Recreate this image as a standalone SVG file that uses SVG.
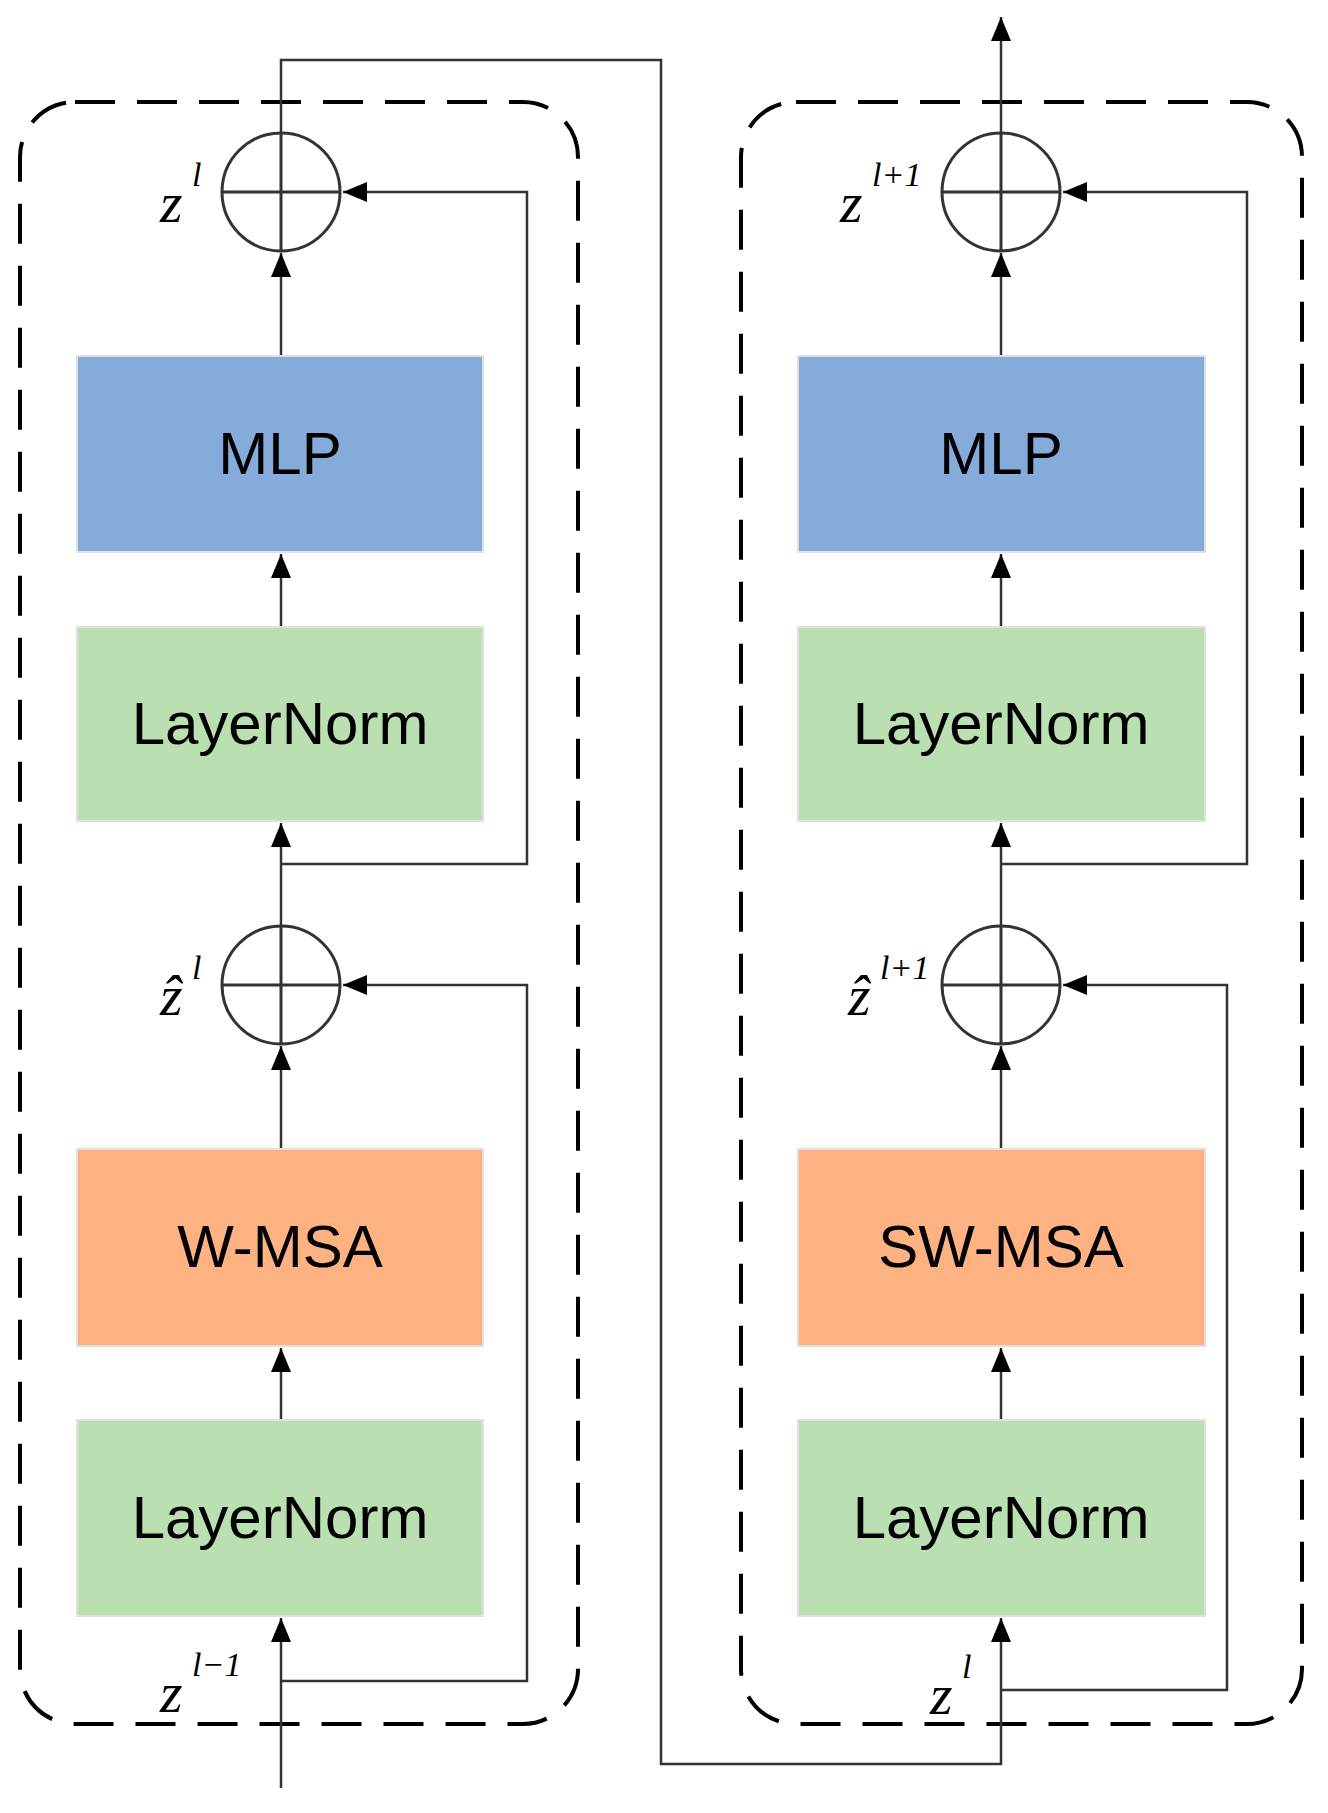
<svg xmlns="http://www.w3.org/2000/svg" width="1328" height="1813" viewBox="0 0 1328 1813">
<style>
.b{stroke:#e0e0e0;stroke-width:2}
.t{font-family:"Liberation Sans",Arial,sans-serif;font-size:60px;text-anchor:middle;fill:#000}
.m{font-family:"Liberation Serif","Times New Roman",serif;font-style:italic;fill:#000}
.z{font-size:58px}
.s{font-size:34px}
.c{fill:none;stroke:#333;stroke-width:3}
.l{fill:none;stroke:#333;stroke-width:2.5}
.d{fill:none;stroke:#000;stroke-width:4;stroke-dasharray:40,22}
</style>
<defs>
<marker id="ah" markerWidth="24" markerHeight="24" refX="24" refY="12" orient="auto" markerUnits="userSpaceOnUse" viewBox="0 0 24 24"><path d="M0,2L24,12L0,22z" fill="#000"/></marker></defs>
<g id="blocks">
<rect class="d" x="20" y="102" width="558" height="1622" rx="55"/>
<rect class="d" x="741" y="102" width="561" height="1622" rx="55"/>
</g>
<g id="connectors">
<path class="l" d="M281,1788V1618" marker-end="url(#ah)"/>
<path class="l" d="M281,1420V1348" marker-end="url(#ah)"/>
<path class="l" d="M281,1149V1046" marker-end="url(#ah)"/>
<path class="l" d="M281,925V823" marker-end="url(#ah)"/>
<path class="l" d="M281,627V554" marker-end="url(#ah)"/>
<path class="l" d="M281,356V253" marker-end="url(#ah)"/>
<path class="l" d="M281,1681H527V985H343" marker-end="url(#ah)"/>
<path class="l" d="M281,864H527V192H343" marker-end="url(#ah)"/>
<path class="l" d="M281,132V60H661V1764H1001V1618" marker-end="url(#ah)"/>
<path class="l" d="M1001,1420V1348" marker-end="url(#ah)"/>
<path class="l" d="M1001,1149V1046" marker-end="url(#ah)"/>
<path class="l" d="M1001,925V823" marker-end="url(#ah)"/>
<path class="l" d="M1001,627V554" marker-end="url(#ah)"/>
<path class="l" d="M1001,356V253" marker-end="url(#ah)"/>
<path class="l" d="M1001,1690H1227V985H1063" marker-end="url(#ah)"/>
<path class="l" d="M1001,864H1247V192H1063" marker-end="url(#ah)"/>
<path class="l" d="M1001,132V17" marker-end="url(#ah)"/>
</g>
<g id="sum1"><circle class="c" cx="281" cy="192" r="59"/><path class="c" d="M222,192H340M281,133V251"/>
<text class="m z" x="160" y="222">z</text><text class="m s" x="192" y="186">l</text></g>
<g id="sum2"><circle class="c" cx="281" cy="985" r="59"/><path class="c" d="M222,985H340M281,926V1044"/>
<text class="m z" x="160" y="1015">ẑ</text><text class="m s" x="192" y="979">l</text></g>
<g id="sum3"><circle class="c" cx="1001" cy="192" r="59"/><path class="c" d="M942,192H1060M1001,133V251"/>
<text class="m z" x="840" y="222">z</text><text class="m s" x="872" y="186">l+1</text></g>
<g id="sum4"><circle class="c" cx="1001" cy="985" r="59"/><path class="c" d="M942,985H1060M1001,926V1044"/>
<text class="m z" x="848" y="1015">ẑ</text><text class="m s" x="880" y="979">l+1</text></g>
<g id="mlp1"><rect class="b" x="77" y="356" width="406" height="196" fill="#85abdb"/><text class="t" x="280" y="474">MLP</text></g>
<g id="ln1"><rect class="b" x="77" y="627" width="406" height="194" fill="#badfb1"/><text class="t" x="280" y="744">LayerNorm</text></g>
<g id="wmsa"><rect class="b" x="77" y="1149" width="406" height="197" fill="#feb282"/><text class="t" x="280" y="1267">W-MSA</text></g>
<g id="ln2"><rect class="b" x="77" y="1420" width="406" height="196" fill="#badfb1"/><text class="t" x="280" y="1538">LayerNorm</text></g>
<g id="mlp2"><rect class="b" x="798" y="356" width="407" height="196" fill="#85abdb"/><text class="t" x="1001" y="474">MLP</text></g>
<g id="ln3"><rect class="b" x="798" y="627" width="407" height="194" fill="#badfb1"/><text class="t" x="1001" y="744">LayerNorm</text></g>
<g id="swmsa"><rect class="b" x="798" y="1149" width="407" height="197" fill="#feb282"/><text class="t" x="1001" y="1267">SW-MSA</text></g>
<g id="ln4"><rect class="b" x="798" y="1420" width="407" height="196" fill="#badfb1"/><text class="t" x="1001" y="1538">LayerNorm</text></g>
<g id="in1"><text class="m z" x="160" y="1712">z</text><text class="m s" x="192" y="1676">l−1</text></g>
<g id="in2"><text class="m z" x="930" y="1714">z</text><text class="m s" x="962" y="1678">l</text></g>
</svg>
